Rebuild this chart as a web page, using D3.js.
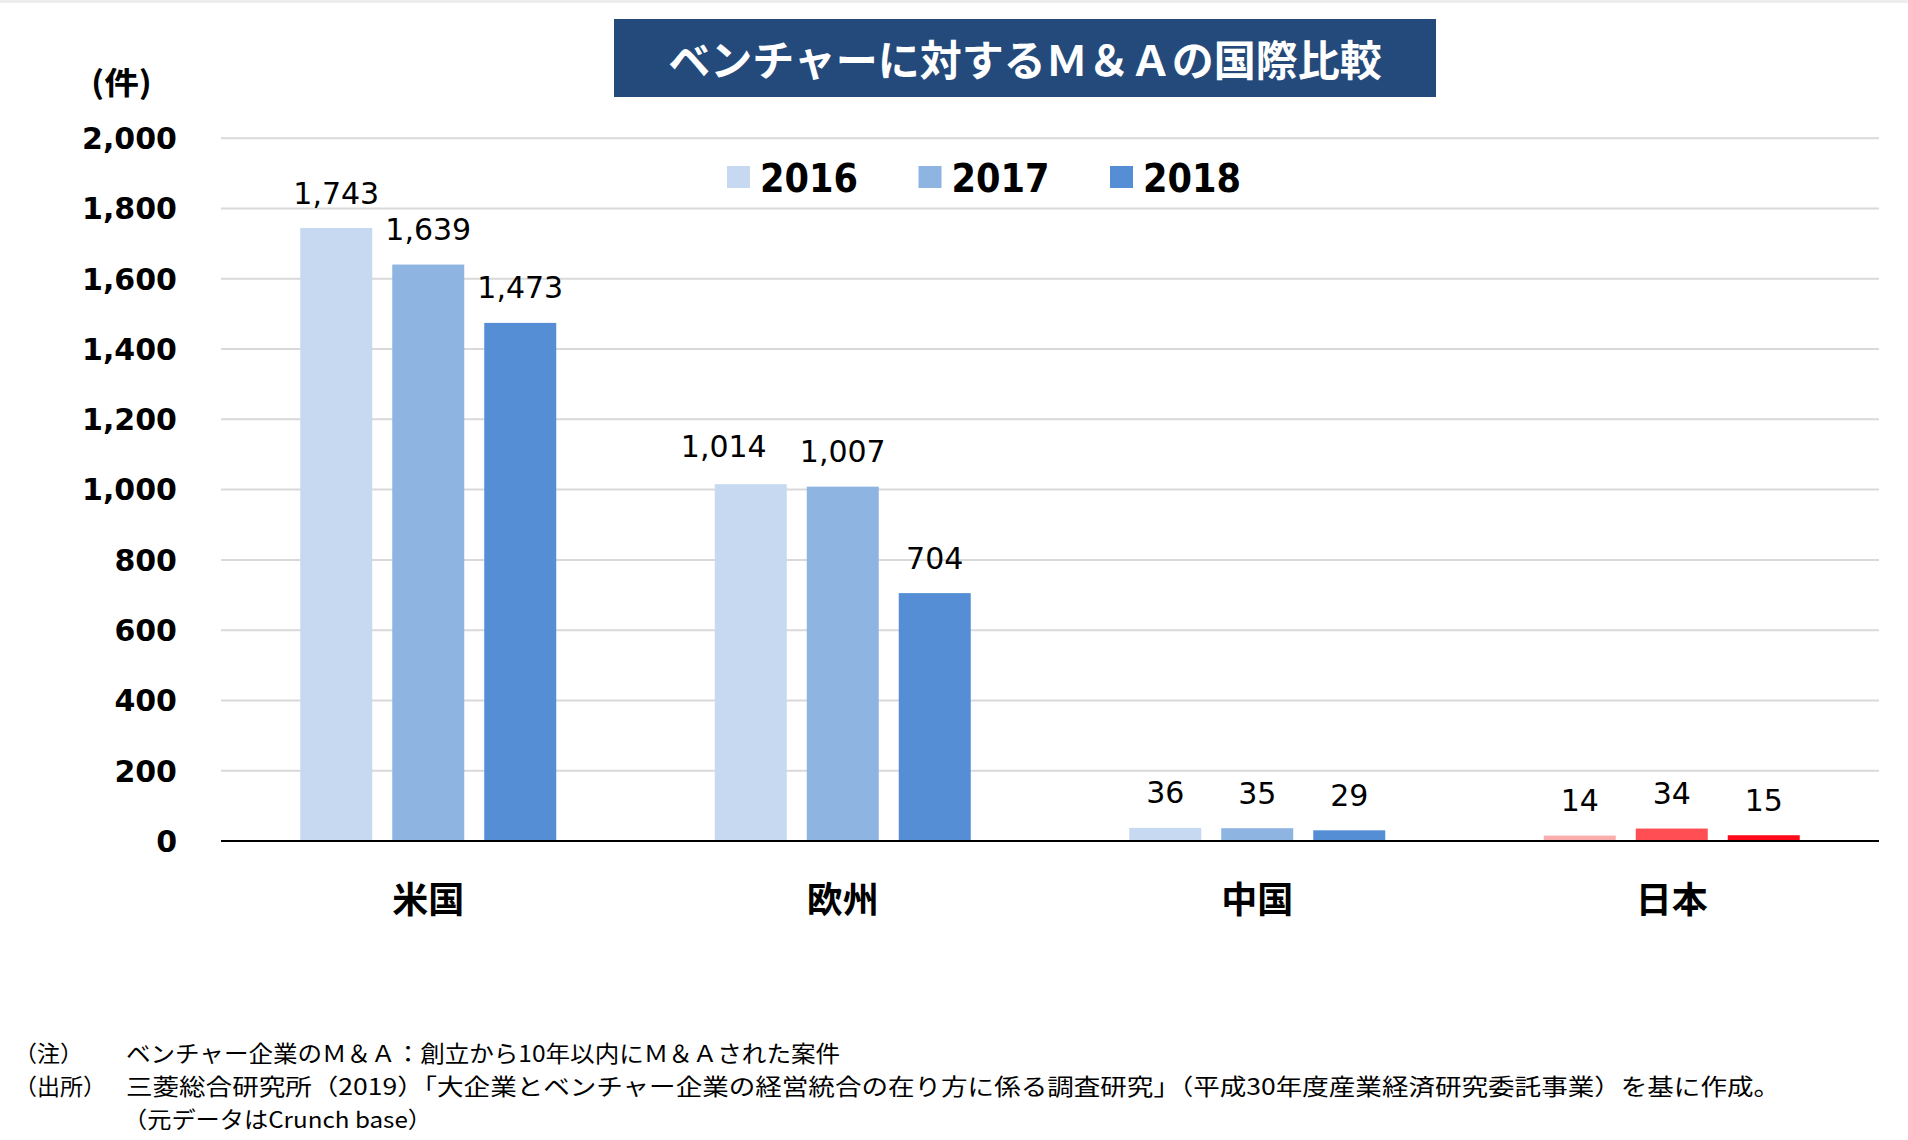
<!DOCTYPE html>
<html>
<head>
<meta charset="utf-8">
<script src="https://cdn.jsdelivr.net/npm/d3@7"></script>
<style>
  html, body { margin: 0; padding: 0; background: #ffffff; }
  svg { display: block; }
</style>
</head>
<body>
<script>
// ---- data ----
const categories = ["米国", "欧州", "中国", "日本"];
const years = ["2016", "2017", "2018"];
const values2016 = [1743, 1014, 36, 14];
const values2017 = [1639, 1007, 35, 34];
const values2018 = [1473, 704, 29, 15];
const yTicks = [0, 200, 400, 600, 800, 1000, 1200, 1400, 1600, 1800, 2000];
const blueColors = ["#C6D9F1", "#8EB4E2", "#558ED5"];
const japanColors = ["#F9ADAD", "#FF4F55", "#FF0A18"];
const titleText = "ベンチャーに対するＭ＆Ａの国際比較";
const unitText = "(件)";
const noteLabels = ["（注）", "（出所）", ""];
const noteLines = [
  "ベンチャー企業のＭ＆Ａ：創立から10年以内にＭ＆Ａされた案件",
  "三菱総合研究所（2019）「大企業とベンチャー企業の経営統合の在り方に係る調査研究」（平成30年度産業経済研究委託事業）を基に作成。",
  "（元データはCrunch base）"
];

const seriesValues = [values2016, values2017, values2018];

// layout-only nudges for labels that were moved apart in the original
const labelNudge = { "欧州-2016": [-27, -2.5] };

const W = 1908, H = 1140;
const svg = d3.select("body").append("svg").attr("width", W).attr("height", H);

const numFont = "'DejaVu Sans', Verdana, sans-serif";
const jpFont = "'Noto Sans CJK JP', 'Noto Sans', sans-serif";

// top faint border
svg.append("rect").attr("x", 0).attr("y", 0).attr("width", W).attr("height", 3).attr("fill", "#EDEDED");

// scales
const plotLeft = 221, plotRight = 1879;
const y = d3.scaleLinear().domain([0, 2000]).range([840.5, 137.7]);
const x = d3.scaleBand().domain(categories).range([plotLeft, plotRight]).paddingInner(0).paddingOuter(0);
const xInner = d3.scaleBand().domain(years).range([-128, 128]).paddingInner(20 / 92).paddingOuter(0);

// gridlines + y tick labels
const yAxis = d3.axisLeft(y).tickValues(yTicks).tickSize(-(plotRight - plotLeft)).tickFormat(d3.format(","));
const gAxis = svg.append("g").attr("transform", `translate(${plotLeft},0)`).call(yAxis);
gAxis.select(".domain").remove();
gAxis.selectAll(".tick line").attr("stroke", "#D9D9D9").attr("stroke-width", 2);
gAxis.selectAll(".tick text")
  .attr("x", 177 - plotLeft)
  .attr("dy", "0.36em")
  .attr("text-anchor", "end")
  .attr("font-family", numFont)
  .attr("font-weight", "bold")
  .attr("font-size", 30)
  .attr("fill", "#000");
gAxis.selectAll(".tick").filter(d => d === 0).select("line").remove();

// bars
const rows = [];
categories.forEach((c, ci) => {
  years.forEach((yr, si) => {
    rows.push({ cat: c, year: yr, si, value: seriesValues[si][ci],
      color: c === "日本" ? japanColors[si] : blueColors[si] });
  });
});

const gBars = svg.append("g");
gBars.selectAll("rect").data(rows).join("rect")
  .attr("x", d => x(d.cat) + x.bandwidth() / 2 + xInner(d.year))
  .attr("y", d => y(d.value))
  .attr("width", xInner.bandwidth())
  .attr("height", d => y(0) - y(d.value))
  .attr("fill", d => d.color);

// data labels
const nudge = d => labelNudge[d.cat + "-" + d.year] || [0, 0];
gBars.selectAll("text").data(rows).join("text")
  .attr("x", d => x(d.cat) + x.bandwidth() / 2 + xInner(d.year) + xInner.bandwidth() / 2 + nudge(d)[0])
  .attr("y", d => y(d.value) - 24.5 + nudge(d)[1])
  .attr("text-anchor", "middle")
  .attr("font-family", numFont)
  .attr("font-size", 30)
  .attr("fill", "#000")
  .text(d => d3.format(",")(d.value));

// zero axis line
svg.append("line").attr("x1", plotLeft).attr("x2", plotRight)
  .attr("y1", y(0) + 0.5).attr("y2", y(0) + 0.5)
  .attr("stroke", "#000").attr("stroke-width", 2.2);

// category labels
const xAxis = d3.axisBottom(x).tickSize(0);
const gX = svg.append("g").attr("transform", `translate(0,${y(0)})`).call(xAxis);
gX.select(".domain").remove();
gX.selectAll(".tick text")
  .attr("y", 0)
  .attr("dy", 0)
  .attr("transform", "translate(0,72)")
  .attr("font-family", jpFont)
  .attr("font-weight", "bold")
  .attr("font-size", 36)
  .attr("fill", "#000");

// unit label
svg.append("text").attr("x", 91).attr("y", 94)
  .attr("font-family", jpFont).attr("font-weight", "bold").attr("font-size", 31)
  .attr("textLength", 61).attr("lengthAdjust", "spacingAndGlyphs")
  .attr("fill", "#000").text(unitText);

// title
svg.append("rect").attr("x", 614).attr("y", 19).attr("width", 822).attr("height", 78).attr("fill", "#234A7B");
svg.append("text").attr("x", 1025).attr("y", 57)
  .attr("text-anchor", "middle").attr("dominant-baseline", "central")
  .attr("font-family", jpFont).attr("font-weight", "bold").attr("font-size", 42)
  .attr("fill", "#fff").text(titleText);

// legend
const legendX = d3.scaleOrdinal().domain(years).range([727, 918.5, 1110]);
const gLeg = svg.append("g");
years.forEach((yr, i) => {
  gLeg.append("rect").attr("x", legendX(yr)).attr("y", 166).attr("width", 23).attr("height", 22).attr("fill", blueColors[i]);
  gLeg.append("text").attr("x", legendX(yr) + 33).attr("y", 192)
    .attr("font-family", numFont).attr("font-weight", "bold").attr("font-size", 39)
    .attr("textLength", 98).attr("lengthAdjust", "spacingAndGlyphs")
    .attr("fill", "#000").text(yr);
});

// footnotes
const noteBaselines = [1062, 1095, 1128];
const noteStarts = [126, 126, 123];
const noteEnds = [840, 1780, 432];
const gNotes = svg.append("g").attr("font-family", jpFont).attr("font-size", 22.5).attr("fill", "#000");
noteLabels.forEach((lab, i) => {
  if (lab) gNotes.append("text").attr("x", 14).attr("y", noteBaselines[i])
    .attr("textLength", lab.length * 23).attr("lengthAdjust", "spacingAndGlyphs").text(lab);
});
noteLines.forEach((t, i) => {
  gNotes.append("text").attr("x", noteStarts[i]).attr("y", noteBaselines[i])
    .attr("textLength", noteEnds[i] - noteStarts[i]).attr("lengthAdjust", "spacingAndGlyphs")
    .text(t);
});
</script>
</body>
</html>
